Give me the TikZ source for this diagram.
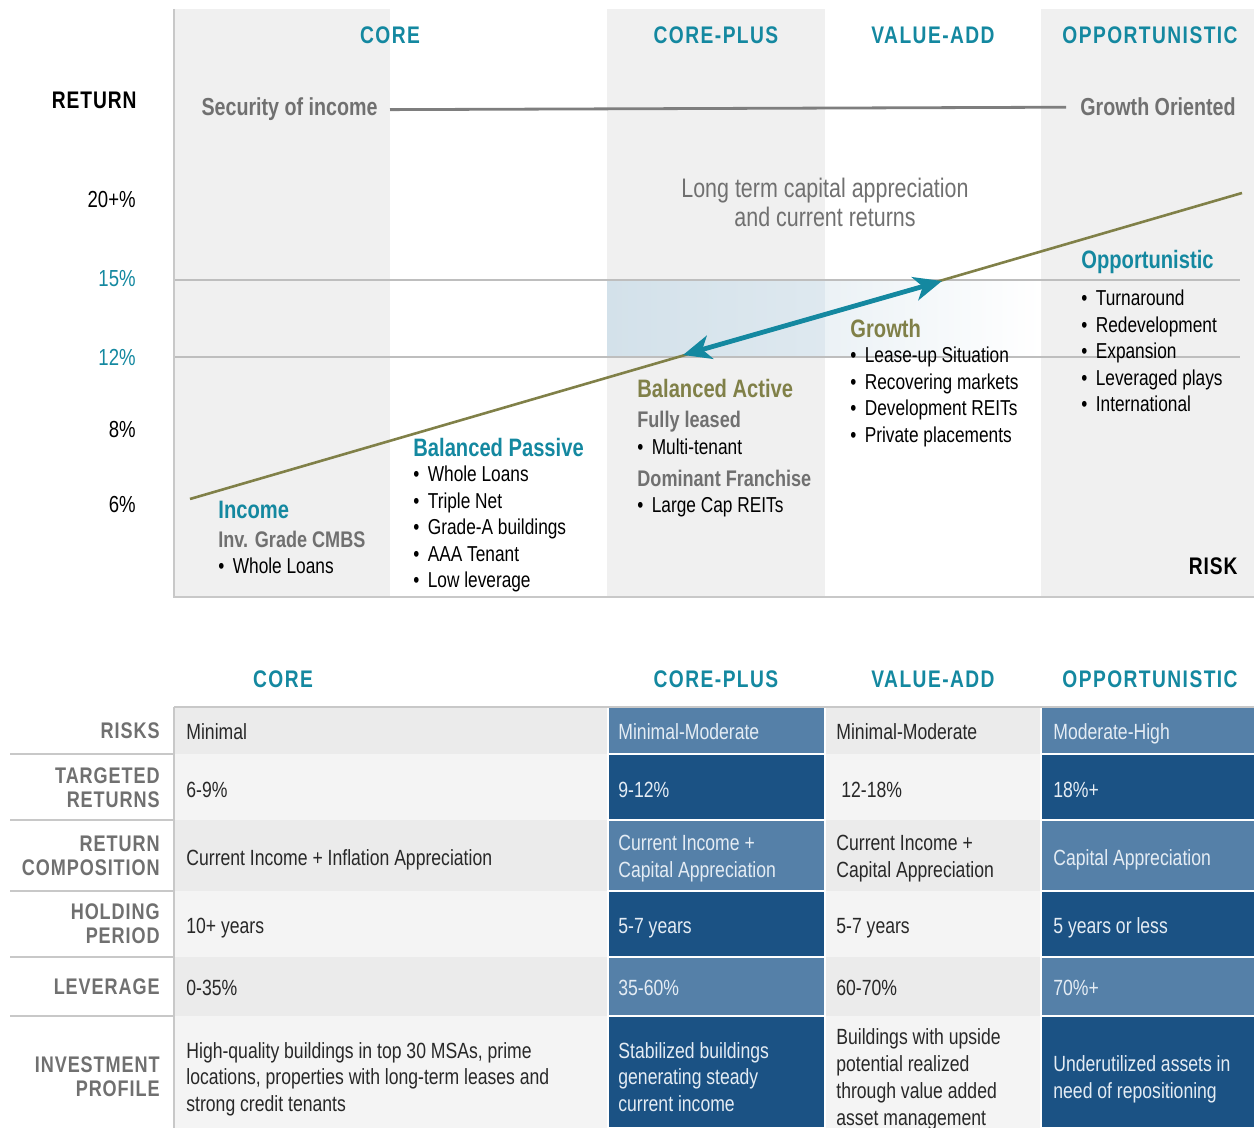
\documentclass[tikz,border=0pt]{standalone}
\usepackage{fontspec}
\setmainfont{Liberation Sans}[FakeStretch=0.8]
\newfontfamily\capsfont{Liberation Sans}[FakeStretch=0.8,LetterSpace=6]
\newfontfamily\labfont{Liberation Sans}[FakeStretch=0.8,LetterSpace=4]
\usetikzlibrary{arrows.meta}
\definecolor{tealhead}{RGB}{20,136,160}
\definecolor{oliveline}{RGB}{128,128,72}
\definecolor{graytext}{RGB}{112,112,112}
\definecolor{bandgray}{RGB}{240,240,240}
\definecolor{gridgray}{RGB}{190,190,190}
\definecolor{framegray}{RGB}{200,200,200}
\definecolor{bandblue}{RGB}{211,225,234}
\definecolor{rowgray}{RGB}{235,235,235}
\definecolor{rowlight}{RGB}{244,244,244}
\definecolor{bluemid}{RGB}{85,128,168}
\definecolor{bluedark}{RGB}{27,82,132}
\definecolor{celllight}{RGB}{228,236,244}
\definecolor{darktext}{RGB}{40,40,40}
\newcommand{\bul}{•\hspace{1.8pt} }

\begin{document}
\begin{tikzpicture}[x=0.5pt,y=-0.5pt,inner sep=0pt,
    colhead/.style={font=\capsfont\bfseries\fontsize{12}{14}\selectfont,text=tealhead,anchor=base},
    axislab/.style={font=\labfont\bfseries\fontsize{12}{14}\selectfont,anchor=base east},
    ylab/.style={font=\fontsize{11.6}{14}\selectfont,anchor=base east},
    cathead/.style={font=\bfseries\fontsize{12.6}{14}\selectfont,anchor=base west},
    subhead/.style={font=\bfseries\fontsize{11.3}{13}\selectfont,text=graytext,anchor=base west},
    item/.style={font=\fontsize{10.8}{13}\selectfont,anchor=base west},
    rowlab/.style={font=\labfont\bfseries\fontsize{11.3}{12}\selectfont,text=graytext,align=right,anchor=east},
    cell/.style={font=\fontsize{11}{13.4}\selectfont,align=left,anchor=west,text=darktext,yshift=-1.5pt,
        execute at begin node=\strut,execute at end node=\strut},
    bcell/.style={cell,text=celllight}]

    \useasboundingbox (0,0) rectangle (1254,1128);

    % chart background
    \fill[bandgray] (174,9) rectangle (390,597);
    \fill[bandgray] (607,9) rectangle (825,597);
    \fill[bandgray] (1041,9) rectangle (1254,597);
    \shade[left color=bandblue,right color=bandblue!75!white] (607,280) rectangle (825,357);
    \shade[left color=bandblue!45!white,right color=white] (825,280) rectangle (1041,357);
    \draw[gridgray,line width=0.6pt] (174,280) -- (1240,280);
    \draw[gridgray,line width=0.6pt] (174,357) -- (1240,357);
    \draw[framegray,line width=1pt] (174,9) -- (174,597) -- (1254,597);

    \node[colhead] (hcore) at (390,44) {CORE};
    \node[colhead] (hplus) at (716,44) {CORE-PLUS};
    \node[colhead] (hvalue) at (933,44) {VALUE-ADD};
    \node[colhead] (hopp) at (1150,44) {OPPORTUNISTIC};

    \node[axislab] (ret) at (137,109) {RETURN};
    \node[axislab] (risk) at (1238,575) {RISK};

    \node[font=\bfseries\fontsize{12.3}{14}\selectfont,text=graytext,anchor=base east,inner xsep=6pt] (sec) at (390,116) {Security of income};
    \node[font=\bfseries\fontsize{12.3}{14}\selectfont,text=graytext,anchor=base west,inner xsep=7pt] (gro) at (1066,116) {Growth Oriented};
    \draw[graytext!90!white,line width=1.4pt] (sec.east) -- (gro.west);

    \node[ylab] (y20) at (136,208) {20+\%};
    \node[ylab,text=tealhead] (y15) at (136,287) {15\%};
    \node[ylab,text=tealhead] (y12) at (136,366) {12\%};
    \node[ylab] (y8) at (136,438) {8\%};
    \node[ylab] (y6) at (136,513) {6\%};

    \node[font=\fontsize{13.4}{14.5}\selectfont,text=graytext,align=center] (longterm) at (825,202) {Long term capital appreciation\\and current returns};

    \coordinate (lo) at (190,499);
    \coordinate (hi) at (1242,193);
    \coordinate (a12) at (683,355);
    \coordinate (a15) at (942,281);
    \draw[oliveline,line width=1.3pt] (lo) -- (hi);
    \draw[tealhead,line width=2.4pt,{Stealth[length=14pt,width=12pt,inset=4pt]}-{Stealth[length=14pt,width=12pt,inset=4pt]}] (a12) -- (a15);

    \node[cathead,text=tealhead] (income) at (218,519) {Income};
    \node[subhead] (cmbs) at (218,548) {Inv. Grade CMBS};
    \node[item] (wl) at (218,574) {\bul Whole Loans};

    \node[cathead,text=tealhead] (passive) at (413,457) {Balanced Passive};
    \foreach \t [count=\i] in {Whole Loans, Triple Net, Grade-A buildings, AAA Tenant, Low leverage}
        \node[item] (bp\i) at (413,{482+26.5*(\i-1)}) {\bul \t};

    \node[cathead,text=oliveline] (active) at (637,398) {Balanced Active};
    \node[subhead] (leased) at (637,428) {Fully leased};
    \node[item] (multi) at (637,455) {\bul Multi-tenant};
    \node[subhead] (franchise) at (637,487) {Dominant Franchise};
    \node[item] (reits) at (637,513) {\bul Large Cap REITs};

    \node[cathead,text=oliveline] (growth) at (850,338) {Growth};
    \foreach \t [count=\i] in {Lease-up Situation, Recovering markets, Development REITs, Private placements}
        \node[item] (gr\i) at (850,{363+26.4*(\i-1)}) {\bul \t};

    \node[cathead,text=tealhead] (opport) at (1081,269) {Opportunistic};
    \foreach \t [count=\i] in {Turnaround, Redevelopment, Expansion, Leveraged plays, International}
        \node[item] (op\i) at (1081,{306+26.5*(\i-1)}) {\bul \t};

    % table
    \node[colhead] (tcore) at (283,688) {CORE};
    \node[colhead] (tplus) at (716,688) {CORE-PLUS};
    \node[colhead] (tvalue) at (933,688) {VALUE-ADD};
    \node[colhead] (topp) at (1150,688) {OPPORTUNISTIC};

    \foreach \ya/\yb [count=\r] in {707/754,754/820,820/891,891/957,957/1016,1016/1128}{
        \ifodd\r \def\gc{rowgray}\def\bc{bluemid}\else \def\gc{rowlight}\def\bc{bluedark}\fi
        \fill[\gc] (174,\ya) rectangle (608,\yb);
        \fill[\gc] (825,\ya) rectangle (1041,\yb);
        \filldraw[fill=\bc,draw=white,line width=0.7pt] (608,\ya) rectangle (825,\yb);
        \filldraw[fill=\bc,draw=white,line width=0.7pt] (1041,\ya) rectangle (1260,\yb);
    }
    \draw[framegray,line width=1pt] (174,707) -- (1254,707);
    \draw[framegray,line width=0.6pt] (174,707) -- (174,1128);
    \foreach \y in {754,820,891,957,1016}
        \draw[rowgray!85!black,line width=1pt] (10,\y) -- (174,\y);

    \node[rowlab] (lrisk) at (160,731) {RISKS};
    \node[rowlab] (ltarget) at (160,788) {TARGETED\\RETURNS};
    \node[rowlab] (lcomp) at (160,856) {RETURN\\COMPOSITION};
    \node[rowlab] (lhold) at (160,924) {HOLDING\\PERIOD};
    \node[rowlab] (llev) at (160,987) {LEVERAGE};
    \node[rowlab] (lprof) at (160,1077) {INVESTMENT\\PROFILE};

    \node[cell] (c11) at (186,731) {Minimal};
    \node[bcell] (c12) at (618,731) {Minimal-Moderate};
    \node[cell] (c13) at (836,731) {Minimal-Moderate};
    \node[bcell] (c14) at (1053,731) {Moderate-High};

    \node[cell] (c21) at (186,789) {6-9\%};
    \node[bcell] (c22) at (618,789) {9-12\%};
    \node[cell] (c23) at (841,789) {12-18\%};
    \node[bcell] (c24) at (1053,789) {18\%+};

    \node[cell] (c31) at (186,857) {Current Income + Inflation Appreciation};
    \node[bcell] (c32) at (618,857) {Current Income +\\Capital Appreciation};
    \node[cell] (c33) at (836,857) {Current Income +\\Capital Appreciation};
    \node[bcell] (c34) at (1053,857) {Capital Appreciation};

    \node[cell] (c41) at (186,925) {10+ years};
    \node[bcell] (c42) at (618,925) {5-7 years};
    \node[cell] (c43) at (836,925) {5-7 years};
    \node[bcell] (c44) at (1053,925) {5 years or less};

    \node[cell] (c51) at (186,987) {0-35\%};
    \node[bcell] (c52) at (618,987) {35-60\%};
    \node[cell] (c53) at (836,987) {60-70\%};
    \node[bcell] (c54) at (1053,987) {70\%+};

    \node[cell] (c61) at (186,1078) {High-quality buildings in top 30 MSAs, prime\\locations, properties with long-term leases and\\strong credit tenants};
    \node[bcell] (c62) at (618,1078) {Stabilized buildings\\generating steady\\current income};
    \node[cell] (c63) at (836,1078) {Buildings with upside\\potential realized\\through value added\\asset management};
    \node[bcell] (c64) at (1053,1078) {Underutilized assets in\\need of repositioning};
\end{tikzpicture}
\end{document}
